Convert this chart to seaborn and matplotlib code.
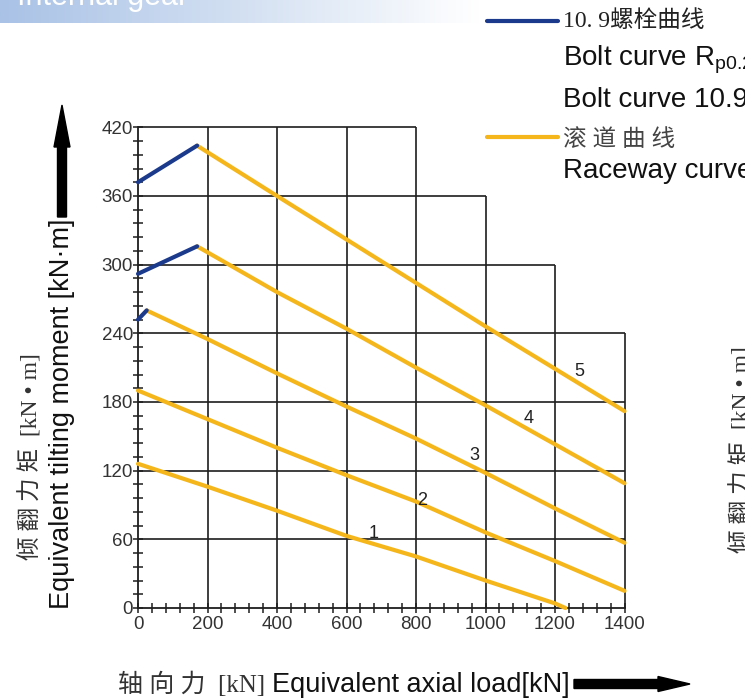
"""Slewing bearing load chart (internal gear): tilting moment vs axial load."""

import matplotlib

matplotlib.use("Agg")
import matplotlib.pyplot as plt  # noqa: E402
import numpy as np  # noqa: E402
import pandas as pd  # noqa: E402
import seaborn as sns  # noqa: E402
from matplotlib.colors import LinearSegmentedColormap  # noqa: E402
from matplotlib.lines import Line2D  # noqa: E402
from matplotlib.patches import FancyArrow  # noqa: E402
from matplotlib.ticker import MultipleLocator  # noqa: E402

# raceway curves 1..5 (load kN, moment kN·m)
race1_x = [0, 200, 400, 600, 800, 1000, 1200, 1230]
race1_y = [126, 106, 85, 63, 45, 24, 4, 0]
race2_x = [0, 200, 400, 600, 800, 1000, 1200, 1400]
race2_y = [190, 165, 140, 116, 93, 66, 41, 15]
race3_x = [25, 200, 400, 600, 800, 1000, 1200, 1400]
race3_y = [260, 235, 205, 176, 148, 118, 87, 57]
race4_x = [170, 400, 600, 800, 1000, 1200, 1400]
race4_y = [316, 276, 244, 210, 177, 143, 109]
race5_x = [170, 400, 600, 800, 1000, 1200, 1400]
race5_y = [404, 360, 322, 284, 246, 209, 172]

# 10.9 bolt curves (only for curves 3..5)
bolt3_x, bolt3_y = [0, 25], [252, 260]
bolt4_x, bolt4_y = [0, 170], [292, 316]
bolt5_x, bolt5_y = [0, 170], [372, 404]

curve_labels = ["1", "2", "3", "4", "5"]
label_x = [679, 819, 969, 1123, 1270]
label_y = [65, 94, 133, 166, 207]

# stepped grid: vertical lines and how high they go, horizontal lines and how far right
grid_x = [200, 400, 600, 800, 1000, 1200, 1400]
grid_x_top = [420, 420, 420, 420, 360, 300, 240]
grid_y = [60, 120, 180, 240, 300, 360, 420]
grid_y_right = [1400, 1400, 1400, 1400, 1200, 1000, 800]

YELLOW = "#F4B61A"
BLUE = "#1B3A8C"
GRID = "#1e1e1e"
SANS = ["Liberation Sans", "Noto Sans CJK SC", "DejaVu Sans"]
NARROW = ["Liberation Sans Narrow", "Liberation Sans", "DejaVu Sans"]
SERIF_CJK = ["Liberation Serif", "Noto Sans CJK SC", "DejaVu Sans"]

sns.set_style("ticks")
plt.rcParams["font.family"] = SANS
plt.rcParams["mathtext.fontset"] = "custom"
plt.rcParams["mathtext.rm"] = "Liberation Sans"
plt.rcParams["mathtext.it"] = "Liberation Sans:italic"


def _long(pairs):
    rows = []
    for name, xs, ys in pairs:
        rows += [{"curve": name, "load": x, "moment": y} for x, y in zip(xs, ys)]
    return pd.DataFrame(rows)


race_df = _long([("1", race1_x, race1_y), ("2", race2_x, race2_y), ("3", race3_x, race3_y),
                 ("4", race4_x, race4_y), ("5", race5_x, race5_y)])
bolt_df = _long([("3", bolt3_x, bolt3_y), ("4", bolt4_x, bolt4_y), ("5", bolt5_x, bolt5_y)])

W, H = 745, 699
fig = plt.figure(figsize=(W / 100, H / 100), dpi=100)
fig.patch.set_facecolor("white")

# title banner (cut off at the top of the slide)
bax = fig.add_axes([0, 1 - 23 / H, 480 / W, 23 / H])
cmap = LinearSegmentedColormap.from_list("banner", ["#a9c2e6", "#d3e0f2", "#ffffff"])
bax.imshow(np.linspace(0, 1, 256)[None, :], aspect="auto", cmap=cmap, extent=[0, 1, 0, 1])
bax.axis("off")
fig.text(17 / W, 1 - 5 / H, "Internal gear", color="white", fontsize=22, va="baseline")

ax = fig.add_axes([138 / W, 1 - 608 / H, 486.5 / W, 480.7 / H])
ax.set_xlim(0, 1400)
ax.set_ylim(0, 420)

ax.vlines(grid_x, 0, grid_x_top, color=GRID, lw=1.2, clip_on=False, zorder=1)
ax.hlines(grid_y, 0, grid_y_right, color=GRID, lw=1.2, clip_on=False, zorder=1)

sns.lineplot(data=race_df, x="load", y="moment", units="curve", estimator=None, sort=False,
             color=YELLOW, lw=3, clip_on=False, ax=ax, zorder=3)
sns.lineplot(data=bolt_df, x="load", y="moment", units="curve", estimator=None, sort=False,
             color=BLUE, lw=3, clip_on=False, ax=ax, zorder=3)

for t, x, y in zip(curve_labels, label_x, label_y):
    ax.text(x, y, t, fontsize=13, color="#222222", ha="center", va="center", zorder=4,
            family=NARROW)

sns.despine(ax=ax)
for side in ("left", "bottom"):
    ax.spines[side].set_color(GRID)
    ax.spines[side].set_linewidth(1.3)
ax.set_xticks(range(0, 1401, 200))
ax.set_yticks(range(0, 421, 60))
ax.xaxis.set_minor_locator(MultipleLocator(40))
ax.yaxis.set_minor_locator(MultipleLocator(12))
ax.tick_params(which="both", direction="inout", length=7, width=1.1, color=GRID,
               labelsize=13.5, labelcolor="#333333")
ax.tick_params(axis="y", which="major", pad=0)
ax.tick_params(axis="x", which="major", pad=2)
for lab in ax.get_xticklabels() + ax.get_yticklabels():
    lab.set_family(NARROW)
ax.set(xlabel="", ylabel="")

# axis titles (slide text, drawn on the figure)
fig.text(62 / W, 1 - 414 / H, "Equivalent tilting moment [kN·m]", rotation=90,
         ha="center", va="center", fontsize=19.5, color="#111111")
fig.text(31 / W, 1 - 457 / H, "倾 翻 力 矩  [kN • m]", rotation=90, ha="center", va="center",
         fontsize=17, color="#333333", family=SERIF_CJK)
fig.text(742 / W, 1 - 450 / H, "倾 翻 力 矩  [kN • m]", rotation=90, ha="center", va="center",
         fontsize=17, color="#333333", family=SERIF_CJK)
fig.text(118 / W, 1 - 692 / H, "轴 向 力  [kN]", ha="left", va="baseline",
         fontsize=18, color="#333333", family=SERIF_CJK)
fig.text(272 / W, 1 - 692 / H, "Equivalent axial load[kN]", ha="left", va="baseline",
         fontsize=19.5, color="#111111")

inch = fig.dpi_scale_trans
fig.add_artist(FancyArrow(0.62, (H - 217) / 100, 0, 1.12, width=0.09, head_width=0.16,
                          head_length=0.42, length_includes_head=True, color="black",
                          transform=inch))
fig.add_artist(FancyArrow(5.74, (H - 684) / 100, 1.16, 0, width=0.09, head_width=0.15,
                          head_length=0.32, length_includes_head=True, color="black",
                          transform=inch))

# legend at the top right (partly cut off by the slide edge)
fig.add_artist(Line2D([487 / W, 558 / W], [1 - 21 / H] * 2, color=BLUE, lw=3))
fig.add_artist(Line2D([487 / W, 558 / W], [1 - 137 / H] * 2, color=YELLOW, lw=3))
fig.text(563 / W, 1 - 21 / H, "10. 9螺栓曲线", va="center", fontsize=17, color="#222222",
         family=SERIF_CJK)
fig.text(563 / W, 1 - 65 / H, r"Bolt curve R$_{\mathrm{p0.2}}$", va="baseline", fontsize=20,
         color="#111111")
fig.text(563 / W, 1 - 107 / H, "Bolt curve 10.9", va="baseline", fontsize=20, color="#111111")
fig.text(563 / W, 1 - 140 / H, "滚 道 曲 线", va="center", fontsize=17, color="#444444",
         family=SERIF_CJK)
fig.text(563 / W, 1 - 178 / H, "Raceway curve", va="baseline", fontsize=20, color="#111111")

fig.savefig("out.png", dpi=100)
